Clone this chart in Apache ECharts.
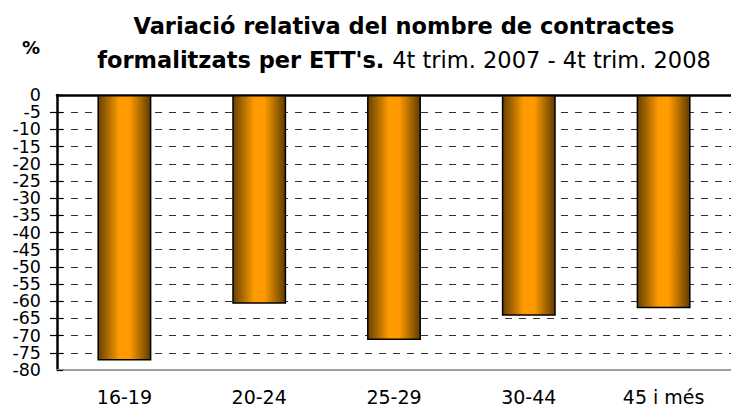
<!DOCTYPE html>
<html>
<head>
<meta charset="utf-8">
<script src="https://cdn.jsdelivr.net/npm/echarts@6/dist/echarts.min.js"></script>
<style>
  html, body { margin: 0; padding: 0; background: #fff; }
  #chart { width: 731px; height: 407px; }
</style>
</head>
<body>
<div id="chart"></div>
<script>
// age groups and relative change (%) 4t trim. 2007 - 4t trim. 2008
const categories = ['16-19', '20-24', '25-29', '30-44', '45 i més'];
const variacio = [-77.2, -60.7, -71.3, -64.2, -62.0];

const yMin = -80;
const yMax = 0;
const yStep = 5;

const font = '"DejaVu Sans", "Liberation Sans", Arial, sans-serif';

const barColor = new echarts.graphic.LinearGradient(0, 0, 1, 0, [
  { offset: 0, color: '#6a4100' },
  { offset: 0.18, color: '#a86800' },
  { offset: 0.4, color: '#ff9a00' },
  { offset: 0.6, color: '#ff9a00' },
  { offset: 0.82, color: '#a86800' },
  { offset: 1, color: '#603b00' }
]);

const labelStyle = { fontFamily: font, fontSize: 17.5, color: '#000', margin: 16 };

const chart = echarts.init(document.getElementById('chart'), null, { renderer: 'svg' });

chart.setOption({
  animation: false,
  title: {
    text: 'Variació relativa del nombre de contractes\n{b|formalitzats per ETT\'s.} {n|4t trim. 2007 - 4t trim. 2008}',
    left: 399,
    top: 4,
    textAlign: 'center',
    textStyle: {
      fontFamily: font,
      fontSize: 22.5,
      fontWeight: 'bold',
      color: '#000',
      lineHeight: 34,
      rich: {
        b: { fontFamily: font, fontSize: 22.5, fontWeight: 'bold', color: '#000', lineHeight: 34 },
        n: { fontFamily: font, fontSize: 22.5, fontWeight: 'normal', color: '#000', lineHeight: 34 }
      }
    }
  },
  graphic: [{
    type: 'text',
    left: 22,
    top: 38,
    style: { text: '%', font: 'bold 18px ' + font, fill: '#000' }
  }],
  grid: { left: 57, right: -12, top: 95, bottom: 37 },
  xAxis: [
    {
      type: 'category',
      data: categories,
      position: 'top',
      axisLine: { onZero: false, lineStyle: { color: '#000', width: 2.5 } },
      axisTick: { inside: true, length: 6, lineStyle: { color: '#000', width: 1.5 } },
      axisLabel: { show: false }
    },
    {
      type: 'category',
      data: categories,
      position: 'bottom',
      axisLine: { onZero: false, lineStyle: { color: '#a0a0a0', width: 2 } },
      axisTick: { show: false },
      axisLabel: { fontFamily: font, fontSize: 19, color: '#000', margin: 17 }
    }
  ],
  yAxis: [
    {
      type: 'value',
      min: yMin,
      max: yMax,
      interval: yStep,
      axisLine: { show: true, onZero: false, lineStyle: { color: '#000', width: 2.5 } },
      axisTick: { show: true, length: 7, lineStyle: { color: '#000', width: 1.2 } },
      axisLabel: Object.assign({ showMinLabel: false, showMaxLabel: false }, labelStyle),
      splitLine: { show: true, lineStyle: { color: '#333', width: 1, type: [7, 7] } }
    },
    {
      // inner half of the crossing ticks
      type: 'value',
      min: yMin,
      max: yMax,
      interval: yStep,
      position: 'left',
      axisLine: { show: false },
      axisTick: { show: true, inside: true, length: 6, lineStyle: { color: '#000', width: 1.2 } },
      axisLabel: { show: false },
      splitLine: { show: false }
    },
    {
      // end labels 0 and -80
      type: 'value',
      min: yMin,
      max: yMax,
      interval: yMax - yMin,
      position: 'left',
      axisLine: { show: false },
      axisTick: { show: false },
      axisLabel: Object.assign({ showMinLabel: true, showMaxLabel: true }, labelStyle),
      splitLine: { show: false }
    }
  ],
  series: [{
    type: 'bar',
    data: variacio,
    barWidth: '40%',
    itemStyle: { color: barColor, borderColor: '#000', borderWidth: 1.5 }
  }]
});
</script>
</body>
</html>
